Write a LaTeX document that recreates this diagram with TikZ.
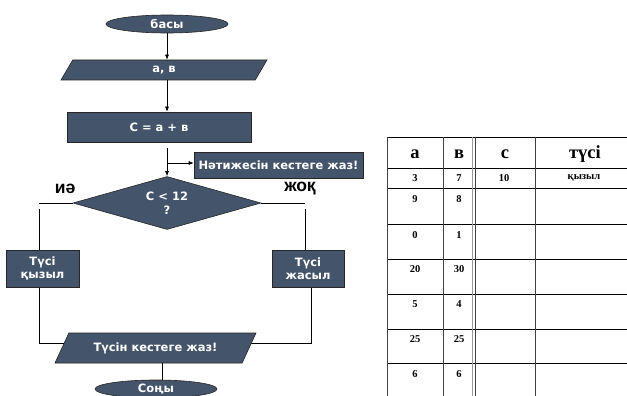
\documentclass[tikz,border=0pt]{standalone}
\usepackage{fontspec}
\setmainfont{Liberation Serif}
\newfontfamily\boxfont{DejaVu Sans}
\newfontfamily\labfont{Liberation Sans}
\usetikzlibrary{shapes.geometric,arrows.meta,backgrounds}
\definecolor{slate}{RGB}{68,84,106}
\begin{document}
\begin{tikzpicture}[x=1pt,y=-1pt,
  blk/.style={fill=slate, draw=black!85, line width=0.6pt, text=white,
    font=\boxfont\bfseries\fontsize{11.5}{13.5}\selectfont, inner sep=0pt, align=center},
  term/.style={blk, ellipse, minimum width=122pt, minimum height=18pt},
  proc/.style={blk, rectangle},
  io/.style={blk, trapezium, trapezium stretches body},
  arr/.style={-{Latex[length=5pt,width=4pt]}},
  conn/.style={line width=0.6pt, black},
  lab/.style={font=\labfont\bfseries\fontsize{17.5}{19}\selectfont, inner sep=0pt},
  grid/.style={line width=0.7pt},
  head/.style={font=\bfseries\fontsize{18.5}{20}\selectfont, inner sep=0pt},
  cell/.style={font=\bfseries\fontsize{10.5}{12}\selectfont, inner sep=0pt}]
\useasboundingbox (0,0) rectangle (627,396);

% flowchart blocks
\node[term] (start) at (167,24) {басы};
\node[io, trapezium left angle=34.6, trapezium right angle=145.4,
      minimum width=206pt, minimum height=20pt] (in) at (164,70) {а, в};
\node[proc, minimum width=184pt, minimum height=30pt] (calc) at (159,127) {С = а + в};
\node[proc, minimum width=169pt, minimum height=26pt] (res) at (278.5,165) {Нәтижесін кестеге жаз!};
\node[blk, diamond, aspect=3.55, minimum width=188pt, minimum height=53pt] (dec) at (167,203) {С < 12\\?};
\node[proc, minimum width=73pt, minimum height=37pt] (red) at (42.5,268.5) {Түсі\\қызыл};
\node[proc, minimum width=72pt, minimum height=37pt] (grn) at (308,268.5) {Түсі\\жасыл};
\node[io, trapezium left angle=39, trapezium right angle=141,
      minimum width=201pt, minimum height=30pt] (out) at (155.5,348) {Түсін кестеге жаз!};
\node[term] (end) at (156,389) {Соңы};

\node[lab] (yes) at (65,189) {иә};
\node[lab] (no) at (300,189) {жоқ};

% connectors
\coordinate (split) at (167,163);
\coordinate (yl) at (39,203);
\coordinate (nr) at (305,203);
\coordinate (jl) at (39,343);
\coordinate (jr) at (311,343);

\draw[conn, arr] (start.south) -- (start.south |- in.north);
\draw[conn, arr] (start |- in.south) -- (start |- calc.north);
\draw[conn, arr, shorten <=6pt] (start |- calc.south) -- (start |- dec.north);
\draw[conn, arr] (split) -- (split -| res.west);
\draw[conn] (dec.west) -- (yl);
\draw[conn, shorten <=6pt] (yl) -- (yl |- red.north);
\draw[conn] (dec.east) -- (nr);
\draw[conn, shorten <=6pt] (nr) -- (nr |- grn.north);
\begin{pgfonlayer}{background}
  \draw[conn] (jl |- red.south) -- (jl) -- (out.center |- jl);
  \draw[conn] (jr |- grn.south) -- (jr) -- (out.center |- jr);
\end{pgfonlayer}
\draw[conn] ([xshift=6pt]end.north |- out.south) -- ([xshift=6pt]end.north);

% table
\foreach \y in {137,168,188,224,259,294,329,363}
  \draw[grid] (387,\y) -- (628,\y);
\foreach \x in {387,443,475,535}
  \draw[grid, black!75] (\x,137) -- (\x,398);
\draw[line width=0.5pt, black!40] (472,137) -- (472,398);

\node[head] (ha) at (415,154) {а};
\node[head] (hb) at (459,154) {в};
\node[head] (hc) at (505,154) {с};
\node[head] (hd) at (585,154) {түсі};

\node[cell] (c1a) at (415,178) {3};
\node[cell] (c1b) at (459,178) {7};
\node[cell] (c1c) at (504,178) {10};
\node[cell] (c1d) at (584,178) {қызыл};

\foreach \a/\b/\y [count=\i from 2] in {9/8/199, 0/1/235, 20/30/269, 5/4/304, 25/25/339, 6/6/374}{
  \node[cell] (c\i a) at (415,\y) {\a};
  \node[cell] (c\i b) at (459,\y) {\b};
}
\end{tikzpicture}
\end{document}
